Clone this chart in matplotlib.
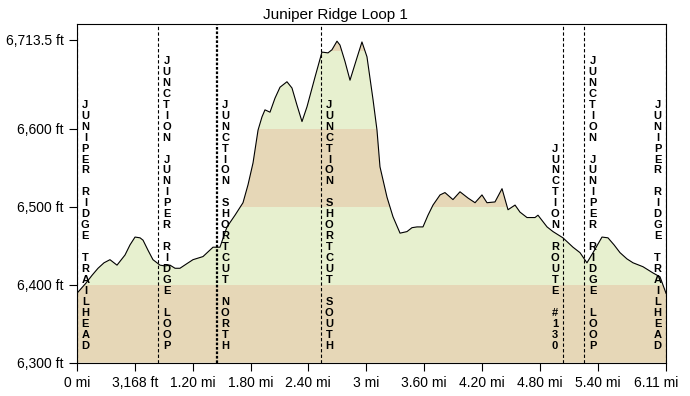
import numpy as np
import matplotlib
matplotlib.use('Agg')
import matplotlib.pyplot as plt
import matplotlib.transforms as mtransforms
from matplotlib.patches import Polygon

plt.rcParams['font.family'] = ['Liberation Sans', 'DejaVu Sans']

title = "Juniper Ridge Loop 1"

# elevation profile (distance in miles, elevation in feet)
dist_mi = [0.000, 0.093, 0.156, 0.218, 0.280, 0.342, 0.415, 0.498, 0.550, 0.602,
           0.654, 0.685, 0.737, 0.788, 0.830, 0.861, 0.913, 0.965, 1.017, 1.068,
           1.141, 1.203, 1.307, 1.359, 1.411, 1.483, 1.556, 1.639, 1.722, 1.774,
           1.826, 1.878, 1.919, 1.950, 2.002, 2.054, 2.106, 2.178, 2.230, 2.282,
           2.334, 2.386, 2.469, 2.541, 2.604, 2.645, 2.697, 2.728, 2.780, 2.832,
           2.905, 2.956, 3.008, 3.071, 3.112, 3.143, 3.216, 3.278, 3.351, 3.423,
           3.475, 3.527, 3.589, 3.641, 3.693, 3.766, 3.817, 3.900, 3.973, 4.056,
           4.129, 4.201, 4.253, 4.336, 4.409, 4.471, 4.544, 4.595, 4.668, 4.751,
           4.782, 4.876, 4.938, 5.041, 5.145, 5.218, 5.290, 5.353, 5.446, 5.508,
           5.571, 5.633, 5.705, 5.768, 5.871, 5.975, 6.048, 6.110]
elev_ft = [6389, 6402, 6412, 6421, 6428, 6432, 6425, 6438, 6451, 6461,
           6460, 6457, 6444, 6432, 6428, 6425, 6424, 6425, 6421, 6421,
           6427, 6432, 6436, 6442, 6448, 6448, 6474, 6489, 6505, 6528,
           6556, 6598, 6615, 6624, 6621, 6639, 6653, 6660, 6652, 6630,
           6609, 6628, 6666, 6698, 6697, 6701, 6712, 6707, 6686, 6662,
           6691, 6711, 6692, 6637, 6598, 6551, 6512, 6487, 6466, 6468,
           6473, 6474, 6474, 6489, 6502, 6515, 6518, 6509, 6519, 6511,
           6505, 6515, 6505, 6506, 6523, 6496, 6502, 6493, 6486, 6486,
           6489, 6474, 6468, 6460, 6448, 6441, 6428, 6441, 6461, 6460,
           6451, 6441, 6433, 6428, 6423, 6415, 6410, 6389]

waypoint_mi = [0.0, 0.843, 1.449, 2.531, 5.045, 5.263, 6.11]
waypoint_names = ["JUNIPER RIDGE TRAILHEAD",
                  "JUNCTION JUNIPER RIDGE LOOP",
                  "JUNCTION SHORTCUT NORTH",
                  "JUNCTION SHORTCUT SOUTH",
                  "JUNCTION ROUTE #130",
                  "JUNCTION JUNIPER RIDGE LOOP",
                  "JUNIPER RIDGE TRAILHEAD"]
label_side = [1, 1, 1, 1, -1, 1, -1]

ytick_vals = [6300, 6400, 6500, 6600, 6713.5]
ytick_labels = ["6,300 ft", "6,400 ft", "6,500 ft", "6,600 ft", "6,713.5 ft"]
xtick_vals = [0, 0.6, 1.2, 1.8, 2.4, 3.0, 3.6, 4.2, 4.8, 5.4, 6.11]
xtick_labels = ["0 mi", "3,168 ft", "1.20 mi", "1.80 mi", "2.40 mi", "3 mi",
                "3.60 mi", "4.20 mi", "4.80 mi", "5.40 mi", "6.11 mi"]

band_edges = [6300, 6400, 6500, 6600, 6700, 6800]
band_colors = ['#e6d7b7', '#e7f0cf']

fig = plt.figure(figsize=(6.9, 3.96), dpi=100)
ax = fig.add_axes([77 / 690, 33.3 / 396, 589 / 690, 338.7 / 396])
ax.set_xlim(0, 6.11)
ax.set_ylim(6300, 6734)

# area under the profile, filled with alternating 100 ft bands
verts = [(dist_mi[0], 6300)] + list(zip(dist_mi, elev_ft)) + [(dist_mi[-1], 6300)]
area = Polygon(verts, closed=True, facecolor='none', edgecolor='none')
ax.add_patch(area)
for i in range(len(band_edges) - 1):
    span = ax.axhspan(band_edges[i], band_edges[i + 1],
                      facecolor=band_colors[i % 2], lw=0, zorder=1)
    span.set_clip_path(area)

ax.plot(dist_mi, elev_ft, color='black', lw=0.8, zorder=3)

# waypoint lines and stacked vertical labels
for k, (x, name) in enumerate(zip(waypoint_mi, waypoint_names)):
    if k == 2:
        ax.axvline(x, color='black', lw=1.6, linestyle=(0, (1.2, 0.8)), zorder=4)
    else:
        ax.axvline(x, color='black', lw=0.8, linestyle=(0, (3, 2)), zorder=4)
    for i, ch in enumerate(reversed(name)):
        ax.annotate(ch, xy=(x, 0), xycoords=('data', 'axes fraction'),
                    xytext=(label_side[k] * 6, 12 + i * 7.9),
                    textcoords='offset points', ha='center', va='center',
                    fontsize=8, fontweight='bold', zorder=5)

ax.set_xticks(xtick_vals)
ax.set_xticklabels(xtick_labels)
ax.set_yticks(ytick_vals)
ax.set_yticklabels(ytick_labels)
ax.tick_params(direction='out', length=6, width=0.8, labelsize=10, pad=3.5,
               colors='black')
# last distance label sits a bit left of its tick
last = ax.get_xticklabels()[-1]
last.set_transform(last.get_transform() +
                   mtransforms.ScaledTranslation(-10 / 100, 0, fig.dpi_scale_trans))
for s in ax.spines.values():
    s.set_linewidth(0.8)
    s.set_color('black')
    s.set_zorder(6)

fig.text(335 / 690, 1 - 15 / 396, title, ha='center', va='center', fontsize=11)

fig.savefig('out.png', dpi=100)
plt.close(fig)
